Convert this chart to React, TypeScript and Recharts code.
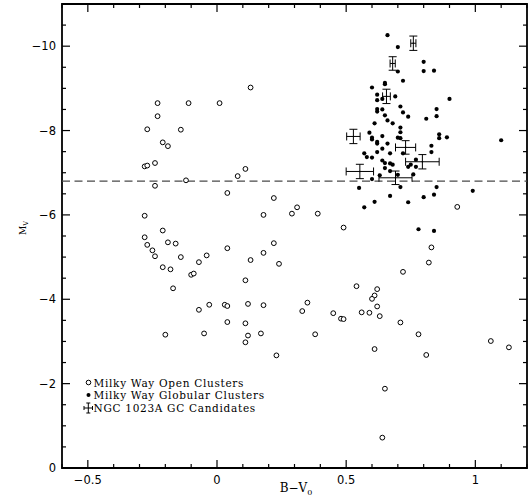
import {
  ScatterChart,
  Scatter,
  XAxis,
  YAxis,
  ReferenceLine,
  ReferenceArea,
  ErrorBar,
} from "recharts";

// [B-V0, Mv]
const openClusters: [number, number][] = [
  [-0.23, -8.65], [-0.11, -8.65], [-0.23, -8.34], [-0.27, -8.03], [-0.14, -8.02],
  [-0.21, -7.72], [-0.19, -7.63], [-0.28, -7.15], [-0.27, -7.17], [-0.24, -7.23],
  [-0.12, -6.82], [-0.24, -6.69], [-0.28, -5.98], [0.13, -9.02], [0.01, -8.65],
  [0.11, -7.09], [0.08, -6.92], [0.04, -6.52], [0.22, -6.4], [0.31, -6.18],
  [0.29, -6.03], [0.18, -6.0], [0.39, -6.03], [0.04, -5.21], [0.22, -5.33],
  [0.18, -5.1], [-0.14, -5.0], [-0.07, -4.88], [-0.04, -5.04], [0.13, -4.93],
  [0.24, -4.84], [-0.1, -4.58], [-0.09, -4.61], [0.11, -4.45], [-0.07, -3.75],
  [-0.03, -3.87], [0.03, -3.87], [0.04, -3.84], [0.12, -3.89], [0.18, -3.86],
  [0.35, -3.92], [0.33, -3.72], [0.04, -3.46], [0.11, -3.43], [-0.05, -3.19],
  [0.12, -3.14], [0.17, -3.19], [0.11, -2.98], [0.38, -3.17], [-0.21, -5.63],
  [-0.28, -5.47], [-0.27, -5.29], [-0.19, -5.35], [-0.16, -5.32], [-0.25, -5.16],
  [-0.24, -5.02], [-0.21, -4.76], [-0.18, -4.71], [-0.17, -4.26], [-0.2, -3.16],
  [0.45, -3.67], [0.48, -3.54], [0.49, -3.53], [0.56, -3.69], [0.59, -3.68],
  [0.54, -4.31], [0.62, -4.24], [0.61, -4.09], [0.6, -4.01], [0.62, -3.83],
  [0.63, -3.6], [0.71, -3.45], [0.72, -4.65], [0.82, -4.87], [0.83, -5.23],
  [0.78, -3.17], [0.81, -2.68], [0.61, -2.82], [0.65, -1.88], [0.64, -0.72],
  [1.06, -3.01], [1.13, -2.86], [0.23, -2.67], [0.93, -6.19], [0.49, -5.7],
];

const globularClusters: [number, number][] = [
  [0.66, -10.26], [0.7, -9.98], [0.8, -9.63], [0.8, -9.41], [0.84, -9.42],
  [0.7, -9.4], [0.72, -9.18], [0.65, -9.13], [0.65, -9.1], [0.6, -9.02],
  [0.62, -8.85], [0.62, -8.72], [0.64, -8.75], [0.69, -8.81], [0.9, -8.75],
  [0.62, -8.51], [0.62, -8.45], [0.64, -8.5], [0.71, -8.57], [0.72, -8.43],
  [0.74, -8.33], [0.65, -8.36], [0.85, -8.51], [0.85, -8.34], [0.81, -8.28],
  [0.66, -8.24], [0.68, -8.17], [0.61, -8.17], [0.71, -8.07], [0.71, -7.96],
  [0.59, -7.95], [0.6, -7.83], [0.6, -7.79], [0.64, -7.87], [0.62, -7.73],
  [0.62, -7.69], [0.66, -7.69], [0.7, -7.83], [0.71, -7.82], [0.86, -7.91],
  [0.86, -7.82], [0.89, -7.84], [1.1, -7.77], [0.64, -7.57], [0.62, -7.49],
  [0.57, -7.46], [0.58, -7.37], [0.6, -7.36], [0.67, -7.46], [0.72, -7.46],
  [0.83, -7.64], [0.83, -7.49], [0.64, -7.29], [0.65, -7.23], [0.67, -7.22],
  [0.68, -7.19], [0.65, -7.11], [0.67, -7.04], [0.63, -6.94], [0.6, -6.85],
  [0.7, -6.95], [0.74, -7.14], [0.75, -7.19], [0.77, -7.31], [0.77, -7.14],
  [0.76, -6.96], [0.55, -6.64], [0.71, -6.66], [0.85, -6.66], [0.99, -6.57],
  [0.61, -6.31], [0.67, -6.45], [0.74, -6.3], [0.8, -6.42], [0.84, -6.48],
  [0.57, -6.18], [0.78, -5.66], [0.84, -5.62],
];

// [B-V0, Mv, error in B-V0, error in Mv]
const ngcCandidates: [number, number, number, number][] = [
  [0.76, -10.07, 0.01, 0.17],
  [0.68, -9.59, 0.01, 0.16],
  [0.656, -8.81, 0.015, 0.17],
  [0.528, -7.86, 0.026, 0.17],
  [0.73, -7.6, 0.039, 0.16],
  [0.795, -7.26, 0.065, 0.17],
  [0.553, -7.03, 0.053, 0.17],
  [0.691, -6.88, 0.064, 0.16],
];

const xTicks = [
  -0.6, -0.5, -0.4, -0.3, -0.2, -0.1, 0, 0.1, 0.2, 0.3, 0.4, 0.5, 0.6, 0.7, 0.8,
  0.9, 1, 1.1, 1.2,
];
const xLabels = [-0.5, 0, 0.5, 1];
const yTicks = [
  -11, -10.5, -10, -9.5, -9, -8.5, -8, -7.5, -7, -6.5, -6, -5.5, -5, -4.5, -4,
  -3.5, -3, -2.5, -2, -1.5, -1, -0.5, 0,
];
const yLabels = [-10, -8, -6, -4, -2, 0];
const cutoffMv = -6.8;

const W = 529;
const H = 500;
const MARGIN = { top: 4, right: 2, bottom: 0, left: 0 };
const Y_AXIS_W = 62;
const X_AXIS_H = 32;
const PLOT_TOP = MARGIN.top;
const PLOT_LEFT = MARGIN.left + Y_AXIS_W;
const PLOT_RIGHT = W - MARGIN.right;
const PLOT_BOTTOM = H - MARGIN.bottom - X_AXIS_H;

const TICK_FONT = "'DejaVu Sans', sans-serif";
const LABEL_FONT = "'DejaVu Serif', serif";

const fmt = (v: number) => (v < 0 ? `\u2212${Math.abs(v)}` : `${v}`);

function XTick({ x, y, payload }: any) {
  const v = payload.value;
  const major = xLabels.includes(v);
  const len = major ? 8 : 4;
  return (
    <g>
      <line x1={x} x2={x} y1={PLOT_BOTTOM} y2={PLOT_BOTTOM - len} stroke="#000" strokeWidth={1.2} />
      <line x1={x} x2={x} y1={PLOT_TOP} y2={PLOT_TOP + len} stroke="#000" strokeWidth={1.2} />
      {major && (
        <text x={x} y={y} dy={8} textAnchor="middle" fontFamily={TICK_FONT} fontSize={11.5} fill="#000">
          {fmt(v)}
        </text>
      )}
    </g>
  );
}

function YTick({ x, y, payload }: any) {
  const v = payload.value;
  const major = yLabels.includes(v);
  const len = major ? 8 : 4;
  return (
    <g>
      <line x1={PLOT_LEFT} x2={PLOT_LEFT + len} y1={y} y2={y} stroke="#000" strokeWidth={1.2} />
      <line x1={PLOT_RIGHT} x2={PLOT_RIGHT - len} y1={y} y2={y} stroke="#000" strokeWidth={1.2} />
      {major && (
        <text x={x} y={y} dy={4} textAnchor="end" fontFamily={TICK_FONT} fontSize={11.5} fill="#000">
          {fmt(v)}
        </text>
      )}
    </g>
  );
}

const OpenDot = (p: any) => (
  <circle cx={p.cx} cy={p.cy} r={2.4} fill="#fff" stroke="#000" strokeWidth={1} />
);
const FilledDot = (p: any) => <circle cx={p.cx} cy={p.cy} r={2.1} fill="#000" />;
const CenterDot = (p: any) => <circle cx={p.cx} cy={p.cy} r={0.8} fill="#000" />;

function App() {
  const openData = openClusters.map(([bv, mv]) => ({ bv, mv }));
  const globData = globularClusters.map(([bv, mv]) => ({ bv, mv }));
  const ngcData = ngcCandidates.map(([bv, mv, ex, ey]) => ({ bv, mv, ex, ey }));

  return (
    <div style={{ position: "absolute", left: 0, top: 0, width: W, height: H }}>
      <ScatterChart width={W} height={H} margin={MARGIN}>
        <XAxis
          type="number"
          dataKey="bv"
          domain={[-0.6, 1.2]}
          ticks={xTicks}
          interval={0}
          tickSize={0}
          tickMargin={8}
          tickLine={false}
          axisLine={false}
          height={X_AXIS_H}
          tick={<XTick />}
          allowDataOverflow
        />
        <YAxis
          type="number"
          dataKey="mv"
          domain={[-11, 0]}
          reversed
          ticks={yTicks}
          interval={0}
          tickSize={0}
          tickMargin={6}
          tickLine={false}
          axisLine={false}
          width={Y_AXIS_W}
          tick={<YTick />}
          allowDataOverflow
        />
        <ReferenceLine y={cutoffMv} stroke="#4a4a4a" strokeWidth={1.3} strokeDasharray="8 4.5" />
        <Scatter data={openData} shape={OpenDot} isAnimationActive={false} />
        <Scatter data={globData} shape={FilledDot} isAnimationActive={false} />
        <Scatter data={ngcData} shape={CenterDot} isAnimationActive={false}>
          <ErrorBar dataKey="ex" direction="x" width={4} stroke="#000" strokeWidth={1} isAnimationActive={false} />
          <ErrorBar dataKey="ey" direction="y" width={4} stroke="#000" strokeWidth={1} isAnimationActive={false} />
        </Scatter>
        <ReferenceArea
          x1={-0.6}
          x2={1.2}
          y1={-11}
          y2={0}
          fill="none"
          stroke="#000"
          strokeWidth={1.8}
        />
      </ScatterChart>
      <svg
        width={W}
        height={H}
        style={{ position: "absolute", left: 0, top: 0, pointerEvents: "none" }}
      >
        <text
          x={26}
          y={228}
          transform="rotate(-90 26 228)"
          textAnchor="middle"
          fontFamily={LABEL_FONT}
          fontSize={9}
          fill="#000"
        >
          M<tspan fontSize={6.5} dy={2}>V</tspan>
        </text>
        <text x={296} y={492} textAnchor="middle" fontFamily={LABEL_FONT} fontSize={12} fill="#000">
          B{"\u2212"}V<tspan fontSize={8} dy={3}>0</tspan>
        </text>
        <g fontFamily={LABEL_FONT} fontSize={10.5} letterSpacing={0.7} fill="#000">
          <circle cx={88.5} cy={382.5} r={2.3} fill="#fff" stroke="#000" strokeWidth={1} />
          <text x={93.5} y={386.5}>Milky Way Open Clusters</text>
          <circle cx={88.5} cy={395} r={2} fill="#000" />
          <text x={93.5} y={399}>Milky Way Globular Clusters</text>
          <g stroke="#000" strokeWidth={1}>
            <line x1={84} x2={92.5} y1={408} y2={408} />
            <line x1={84} x2={84} y1={406} y2={410} />
            <line x1={92.5} x2={92.5} y1={406} y2={410} />
            <line x1={88.3} x2={88.3} y1={403} y2={413} />
            <line x1={86.3} x2={90.3} y1={403} y2={403} />
            <line x1={86.3} x2={90.3} y1={413} y2={413} />
          </g>
          <text x={93.5} y={412}>NGC 1023A GC Candidates</text>
        </g>
      </svg>
    </div>
  );
}

export default App;
